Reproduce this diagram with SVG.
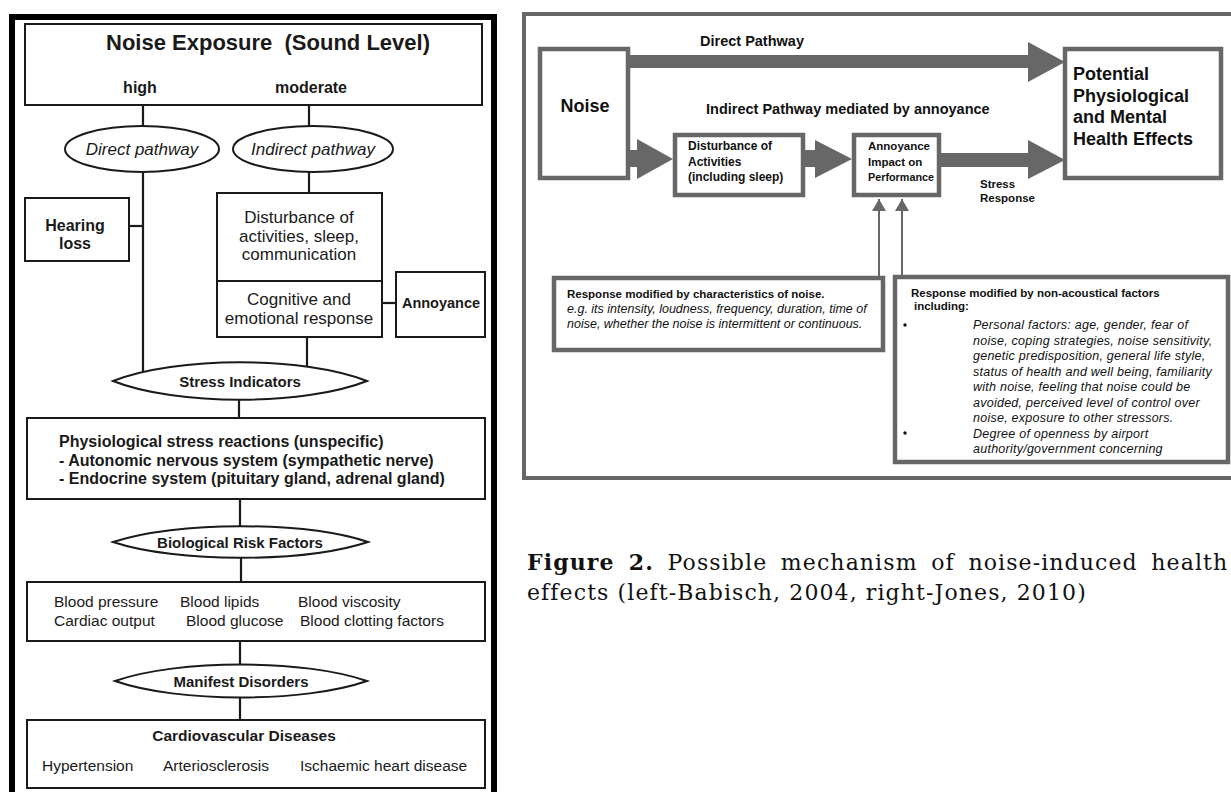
<svg xmlns="http://www.w3.org/2000/svg" width="1231" height="792" viewBox="0 0 1231 792">
<style>
.lt{font-family:"Liberation Sans",Arial,sans-serif;fill:#1a1a1a}
.lb{stroke:#1a1a1a;stroke-width:2;fill:#fff}
.lc{stroke:#1a1a1a;stroke-width:2.2;fill:none}
.rt{font-family:"Liberation Sans",Arial,sans-serif;fill:#111}
.rh{font-family:"Liberation Sans",Arial,sans-serif;fill:#111;font-size:11.5px;font-weight:bold}
.ri{font-family:"Liberation Sans",Arial,sans-serif;fill:#111;font-size:12.5px;font-style:italic;letter-spacing:0.25px}
.ri0{font-family:"Liberation Sans",Arial,sans-serif;fill:#111;font-size:12.5px;font-style:italic}
.rb{stroke:#676767;stroke-width:4.5;fill:#fff}
.ra{fill:#676767}
.cap{font-family:"DejaVu Serif","Liberation Serif",serif;fill:#111;font-size:22px;letter-spacing:1.1px}
</style>
<defs>
<marker id="tri" viewBox="0 0 12 14" refX="12" refY="7" markerWidth="12" markerHeight="14" markerUnits="userSpaceOnUse" orient="auto">
<path d="M0,0 L12,7 L0,14 Z" fill="#676767"/>
</marker>
</defs>
<rect width="1231" height="792" fill="#fff"/>

<!-- LEFT PANEL -->
<rect x="12" y="17" width="482" height="800" fill="none" stroke="#000" stroke-width="6"/>

<g id="left-connectors">
<line class="lc" x1="143" y1="105" x2="143" y2="126"/>
<line class="lc" x1="309" y1="105" x2="309" y2="126"/>
<line class="lc" x1="309" y1="172" x2="309" y2="193"/>
<line class="lc" x1="143" y1="172" x2="143" y2="378"/>
<line class="lc" x1="129" y1="226" x2="143" y2="226"/>
<line class="lc" x1="382" y1="303" x2="396" y2="303"/>
<line class="lc" x1="307" y1="337" x2="307" y2="375"/>
<line class="lc" x1="239" y1="398" x2="239" y2="418"/>
<line class="lc" x1="240" y1="499" x2="240" y2="528"/>
<line class="lc" x1="241" y1="556" x2="241" y2="582"/>
<line class="lc" x1="240" y1="641" x2="240" y2="666"/>
<line class="lc" x1="240" y1="696" x2="240" y2="720"/>
</g>

<g id="noise-exposure">
<rect class="lb" x="25" y="24" width="457" height="81"/>
<text class="lt" x="268" y="50" font-size="22" font-weight="bold" text-anchor="middle" xml:space="preserve">Noise Exposure  (Sound Level)</text>
<text class="lt" x="140" y="93" font-size="16" font-weight="bold" text-anchor="middle">high</text>
<text class="lt" x="311" y="93" font-size="16" font-weight="bold" text-anchor="middle">moderate</text>
</g>

<g id="direct-pathway">
<ellipse class="lb" cx="142" cy="149" rx="77" ry="23"/>
<text class="lt" x="142" y="155" font-size="17" font-style="italic" text-anchor="middle">Direct pathway</text>
</g>
<g id="indirect-pathway">
<ellipse class="lb" cx="313" cy="149" rx="80" ry="23"/>
<text class="lt" x="313" y="155" font-size="17" font-style="italic" text-anchor="middle">Indirect pathway</text>
</g>

<g id="hearing-loss">
<rect class="lb" x="25" y="198" width="104" height="63"/>
<text class="lt" x="75" y="231" font-size="16" font-weight="bold" text-anchor="middle">Hearing</text>
<text class="lt" x="75" y="249" font-size="16" font-weight="bold" text-anchor="middle">loss</text>
</g>

<g id="disturbance-left">
<rect class="lb" x="217" y="193" width="165" height="88"/>
<text class="lt" x="299" y="223" font-size="17" text-anchor="middle">Disturbance of</text>
<text class="lt" x="299" y="242" font-size="17" text-anchor="middle">activities, sleep,</text>
<text class="lt" x="299" y="260" font-size="17" text-anchor="middle">communication</text>
</g>
<g id="cognitive">
<rect class="lb" x="217" y="281" width="165" height="56"/>
<text class="lt" x="299" y="305" font-size="17" text-anchor="middle">Cognitive and</text>
<text class="lt" x="299" y="324" font-size="17" text-anchor="middle">emotional response</text>
</g>
<g id="annoyance-left">
<rect class="lb" x="396" y="272" width="89" height="65"/>
<text class="lt" x="441" y="308" font-size="14.5" font-weight="bold" text-anchor="middle">Annoyance</text>
</g>

<g id="stress-indicators">
<path class="lb" d="M113,381 C176,356 304,356 367,381 C304,406 176,406 113,381 Z"/>
<text class="lt" x="240" y="387" font-size="15" font-weight="bold" text-anchor="middle">Stress Indicators</text>
</g>

<g id="physiological">
<rect class="lb" x="27" y="418" width="458" height="81"/>
<text class="lt" x="59" y="447" font-size="16" font-weight="bold">Physiological stress reactions (unspecific)</text>
<text class="lt" x="59" y="466" font-size="16" font-weight="bold">- Autonomic nervous system (sympathetic nerve)</text>
<text class="lt" x="59" y="484" font-size="16" font-weight="bold">- Endocrine system (pituitary gland, adrenal gland)</text>
</g>

<g id="biological-risk">
<path class="lb" d="M113,542 C176,521 304,521 368,542 C304,563 176,563 113,542 Z"/>
<text class="lt" x="240" y="548" font-size="15" font-weight="bold" text-anchor="middle">Biological Risk Factors</text>
</g>

<g id="blood">
<rect class="lb" x="27" y="582" width="458" height="59"/>
<text class="lt" x="54" y="607" font-size="15.5">Blood pressure</text>
<text class="lt" x="180" y="607" font-size="15.5">Blood lipids</text>
<text class="lt" x="298" y="607" font-size="15.5">Blood viscosity</text>
<text class="lt" x="54" y="626" font-size="15.5">Cardiac output</text>
<text class="lt" x="186" y="626" font-size="15.5">Blood glucose</text>
<text class="lt" x="300" y="626" font-size="15.5">Blood clotting factors</text>
</g>

<g id="manifest">
<path class="lb" d="M115,681 C178,659 304,659 367,681 C304,703 178,703 115,681 Z"/>
<text class="lt" x="241" y="687" font-size="15" font-weight="bold" text-anchor="middle">Manifest Disorders</text>
</g>

<g id="cvd">
<rect class="lb" x="27" y="720" width="458" height="68"/>
<text class="lt" x="244" y="741" font-size="15.5" font-weight="bold" text-anchor="middle">Cardiovascular Diseases</text>
<text class="lt" x="42" y="771" font-size="15.5">Hypertension</text>
<text class="lt" x="163" y="771" font-size="15.5">Arteriosclerosis</text>
<text class="lt" x="300" y="771" font-size="15.5">Ischaemic heart disease</text>
</g>

<!-- RIGHT PANEL -->
<rect x="524" y="14" width="730" height="464" fill="none" stroke="#676767" stroke-width="4"/>

<g id="right-connectors">
<rect class="ra" x="628" y="55" width="401" height="13"/>
<polygon class="ra" points="1028,42 1065,62 1028,82"/>
<rect class="ra" x="628" y="150" width="10" height="17"/>
<polygon class="ra" points="637,139 673,159 637,179"/>
<rect class="ra" x="803" y="150" width="13" height="17"/>
<polygon class="ra" points="815,140 852,159 815,178"/>
<rect class="ra" x="939" y="153" width="90" height="14"/>
<polygon class="ra" points="1028,140 1065,160 1028,179"/>
<line x1="879" y1="277" x2="879" y2="199" stroke="#676767" stroke-width="2" marker-end="url(#tri)"/>
<line x1="902" y1="277" x2="902" y2="199" stroke="#676767" stroke-width="2" marker-end="url(#tri)"/>
<text class="rt" x="700" y="46" font-size="14.5" font-weight="bold">Direct Pathway</text>
<text class="rt" x="706" y="114" font-size="14.5" font-weight="bold">Indirect Pathway mediated by annoyance</text>
<text class="rt" x="980" y="188" font-size="11.5" font-weight="bold">Stress</text>
<text class="rt" x="980" y="202" font-size="11.5" font-weight="bold">Response</text>
</g>

<g id="noise">
<rect class="rb" x="540" y="49" width="88" height="129"/>
<text class="rt" x="585" y="112" font-size="18" font-weight="bold" text-anchor="middle">Noise</text>
</g>

<g id="health-effects">
<rect class="rb" x="1065" y="49" width="156" height="129"/>
<text class="rt" x="1073" y="80" font-size="18" font-weight="bold">Potential</text>
<text class="rt" x="1073" y="102" font-size="18" font-weight="bold">Physiological</text>
<text class="rt" x="1073" y="123" font-size="18" font-weight="bold">and Mental</text>
<text class="rt" x="1073" y="145" font-size="18" font-weight="bold">Health Effects</text>
</g>

<g id="disturbance-right">
<rect class="rb" x="675" y="135" width="128" height="60"/>
<text class="rt" x="688" y="150" font-size="12" font-weight="bold">Disturbance of</text>
<text class="rt" x="688" y="166" font-size="12" font-weight="bold">Activities</text>
<text class="rt" x="688" y="181" font-size="12" font-weight="bold">(including sleep)</text>
</g>

<g id="annoyance-right">
<rect class="rb" x="854" y="135" width="85" height="60"/>
<text class="rt" x="868" y="150" font-size="11.5" font-weight="bold">Annoyance</text>
<text class="rt" x="868" y="166" font-size="11.5" font-weight="bold">Impact on</text>
<text class="rt" x="868" y="181" font-size="11.5" font-weight="bold" textLength="66" lengthAdjust="spacingAndGlyphs">Performance</text>
</g>

<g id="noise-characteristics">
<rect class="rb" x="554" y="278" width="329" height="72"/>
<text class="rh" x="567" y="298">Response modified by characteristics of noise.</text>
<text class="ri0" x="567" y="313">e.g. its intensity, loudness, frequency, duration, time of</text>
<text class="ri0" x="567" y="328">noise, whether the noise is intermittent or continuous.</text>
</g>

<g id="non-acoustical">
<rect class="rb" x="895" y="277" width="333" height="185"/>
<text class="rh" x="911" y="297">Response modified by non-acoustical factors</text>
<text class="rh" x="914" y="310">including:</text>
<circle cx="905" cy="325" r="1.7" fill="#111"/>
<circle cx="905" cy="433" r="1.7" fill="#111"/>
<text class="ri" x="973" y="329">Personal factors: age, gender, fear of</text>
<text class="ri" x="973" y="344.5">noise, coping strategies, noise sensitivity,</text>
<text class="ri" x="973" y="360">genetic predisposition, general life style,</text>
<text class="ri" x="973" y="375.5">status of health and well being, familiarity</text>
<text class="ri" x="973" y="391">with noise, feeling that noise could be</text>
<text class="ri" x="973" y="406.5">avoided, perceived level of control over</text>
<text class="ri" x="973" y="422">noise, exposure to other stressors.</text>
<text class="ri" x="973" y="437.5">Degree of openness by airport</text>
<text class="ri" x="973" y="453">authority/government concerning</text>
</g>

<g id="caption">
<text class="cap" x="527" y="570" word-spacing="5.5"><tspan font-weight="bold">Figure 2.</tspan> Possible mechanism of noise-induced health</text>
<text class="cap" x="527" y="600">effects (left-Babisch, 2004, right-Jones, 2010)</text>
</g>
</svg>
